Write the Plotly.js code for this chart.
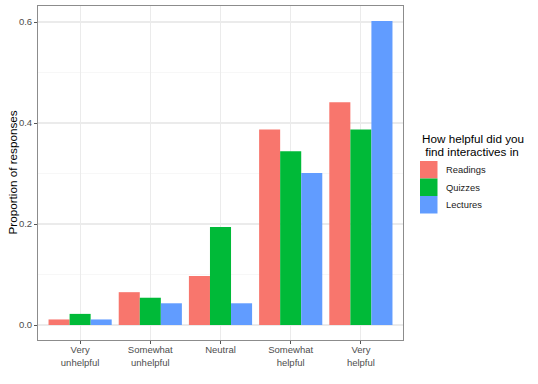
<!DOCTYPE html>
<html>
<head>
<meta charset="utf-8">
<script src="https://cdn.plot.ly/plotly-3.0.1.min.js"></script>
<style>html,body{margin:0;padding:0;background:#fff;}#chart{width:538px;height:384px;}</style>
</head>
<body>
<div id="chart"></div>
<script>
const categories = ["Very<br>unhelpful", "Somewhat<br>unhelpful", "Neutral", "Somewhat<br>helpful", "Very<br>helpful"];
const seriesNames = ["Readings", "Quizzes", "Lectures"];
const readings = [0.011, 0.065, 0.097, 0.387, 0.441];
const quizzes  = [0.022, 0.054, 0.194, 0.344, 0.387];
const lectures = [0.011, 0.043, 0.043, 0.301, 0.602];
const colors = ["#F8766D", "#00BA38", "#619CFF"];
const yTicks = [0, 0.2, 0.4, 0.6];
const legendTitle = ["How helpful did you", " find interactives in"];
const yTitle = "Proportion of responses";

const values = [readings, quizzes, lectures];
const traces = values.map((v, i) => ({
  type: "bar",
  x: categories,
  y: v,
  name: seriesNames[i],
  marker: {color: colors[i], line: {width: 0}},
  hoverinfo: "x+y+name"
}));

// Plot area in pixels, used to place the hand-built legend (ggplot-style keys)
const W = 538, H = 384, mL = 38, mR = 135, mT = 6, mB = 44;
const pw = W - mL - mR, ph = H - mT - mB;
const px = x => (x - mL) / pw;
const py = y => (H - mB - y) / ph;

const keyX0 = 420, keySize = 17.5, keyTop = 161;
const shapes = [];
const annotations = [];
seriesNames.forEach((name, i) => {
  const top = keyTop + i * keySize;
  shapes.push({
    type: "rect", xref: "paper", yref: "paper",
    x0: px(keyX0), x1: px(keyX0 + keySize),
    y0: py(top + keySize), y1: py(top),
    fillcolor: colors[i], line: {width: 0}
  });
  annotations.push({
    xref: "paper", yref: "paper",
    x: px(444), y: py(top + keySize / 2),
    xanchor: "left", yanchor: "middle",
    text: name, showarrow: false,
    font: {size: 9.4, color: "#1a1a1a"}
  });
});
legendTitle.forEach((t, i) => {
  annotations.push({
    xref: "paper", yref: "paper",
    x: px(420), y: py(138 + i * 13.8),
    xanchor: "left", yanchor: "middle",
    text: t.replace(/^ /, "&nbsp;"), showarrow: false,
    font: {size: 11.7, color: "#000"}
  });
});
annotations.push({
  xref: "paper", yref: "paper",
  x: px(11.5), y: 0.5,
  xanchor: "center", yanchor: "middle",
  text: yTitle, showarrow: false, textangle: -90,
  font: {size: 11.7, color: "#000"}
});

const layout = {
  width: W, height: H,
  margin: {l: mL, r: mR, t: mT, b: mB},
  paper_bgcolor: "#ffffff",
  plot_bgcolor: "#ffffff",
  font: {family: "Liberation Sans, Arial, sans-serif", color: "#000"},
  barmode: "group",
  bargap: 0.1,
  bargroupgap: 0,
  xaxis: {
    type: "category",
    range: [-0.6, 4.6],
    showgrid: true, gridcolor: "#ebebeb", gridwidth: 1,
    ticks: "outside", ticklen: 3, tickcolor: "#555555", tickwidth: 1,
    ticklabelstandoff: -2,
    tickfont: {size: 9.5, color: "#4d4d4d"},
    showline: true, linecolor: "#8c8c8c", linewidth: 1, mirror: true,
    zeroline: false
  },
  yaxis: {
    range: [-0.0297, 0.6317],
    tickvals: yTicks,
    ticktext: yTicks.map(t => t.toFixed(1)),
    showgrid: true, gridcolor: "#ebebeb", gridwidth: 1.1,
    minor: {dtick: 0.1, showgrid: true, gridcolor: "#f2f2f2", gridwidth: 0.6, ticks: ""},
    ticks: "outside", ticklen: 3, tickcolor: "#555555", tickwidth: 1,
    tickfont: {size: 9.5, color: "#4d4d4d"},
    showline: true, linecolor: "#8c8c8c", linewidth: 1, mirror: true,
    zeroline: false
  },
  showlegend: false,
  shapes: shapes,
  annotations: annotations
};

Plotly.newPlot("chart", traces, layout, {displayModeBar: false, staticPlot: true});
</script>
</body>
</html>
